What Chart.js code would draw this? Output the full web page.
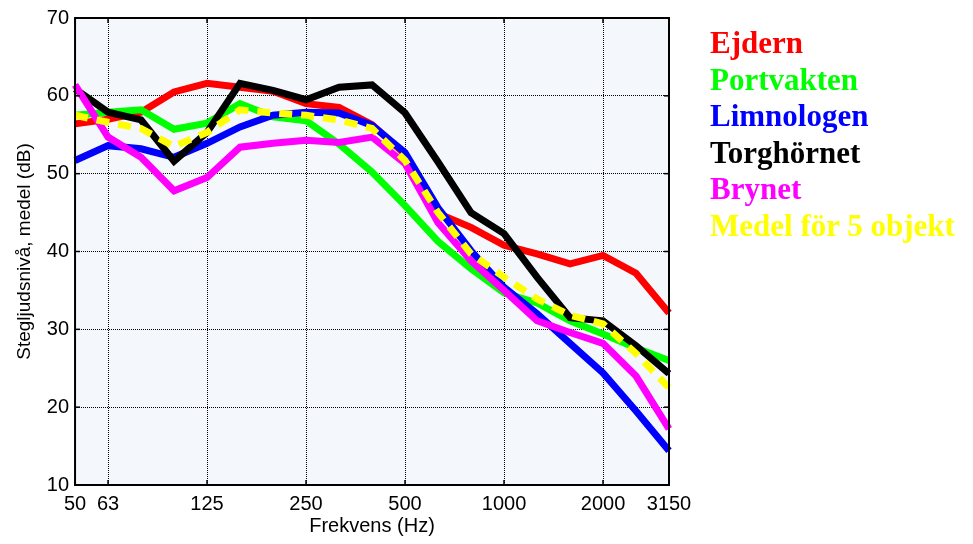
<!DOCTYPE html>
<html>
<head>
<meta charset="utf-8">
<script src="https://cdn.jsdelivr.net/npm/chart.js@4/dist/chart.umd.min.js"></script>
<style>
  html, body { margin: 0; padding: 0; background: #fff; }
  #wrap { position: relative; width: 973px; height: 544px; }
  #legend { position: absolute; left: 710px; top: 25px; font-family: "Liberation Serif", "Times New Roman", serif; font-weight: bold; font-size: 31px; line-height: 36.5px; white-space: nowrap; }
</style>
</head>
<body>
<div id="wrap">
  <canvas id="c" width="973" height="544"></canvas>
  <div id="legend"></div>
</div>
<script>
const frequencies = ['50','63','80','100','125','160','200','250','315','400','500','630','800','1000','1250','1600','2000','2500','3150'];
const shownTicks = ['50','63','125','250','500','1000','2000','3150'];
const gridTicks = ['63','125','250','500','1000','2000'];

const ejdern      = [56.4, 57.0, 57.9, 60.5, 61.6, 61.1, 60.6, 59.0, 58.5, 56.3, 52.5, 44.9, 43.1, 40.8, 39.7, 38.4, 39.5, 37.2, 32.1];
const portvakten  = [57.5, 57.9, 58.2, 55.7, 56.5, 59.0, 57.3, 56.8, 53.8, 50.2, 45.9, 41.3, 37.8, 34.7, 33.4, 31.1, 29.4, 27.6, 26.0];
const limnologen  = [51.7, 53.6, 53.2, 52.1, 53.9, 56.0, 57.5, 57.9, 57.8, 56.2, 52.7, 45.6, 40.1, 35.4, 32.0, 28.2, 24.4, 19.5, 14.4];
const torghornet  = [60.9, 57.9, 56.9, 51.6, 55.3, 61.6, 60.7, 59.5, 61.1, 61.4, 57.8, 51.5, 45.0, 42.3, 36.7, 31.5, 31.1, 27.9, 24.3];
const brynet      = [61.4, 54.7, 52.1, 47.8, 49.5, 53.4, 53.9, 54.3, 54.0, 54.7, 51.3, 43.7, 38.8, 35.0, 31.1, 29.6, 28.2, 24.0, 17.2];
const medel       = [57.5, 56.6, 55.8, 53.5, 55.3, 58.2, 57.8, 57.5, 56.9, 55.8, 51.7, 45.0, 39.7, 36.7, 33.9, 31.8, 30.7, 26.9, 22.5];

const seriesNames = ['Ejdern','Portvakten','Limnologen','Torghörnet','Brynet','Medel för 5 objekt'];
const seriesColors = ['#ff0000','#00ff00','#0000ff','#000000','#ff00ff','#ffff00'];
const seriesData = [ejdern, portvakten, limnologen, torghornet, brynet, medel];
const yTicks = [10,20,30,40,50,60,70];

const legend = document.getElementById('legend');
seriesNames.forEach((n,i)=>{
  const d = document.createElement('div');
  d.textContent = n; d.style.color = seriesColors[i];
  legend.appendChild(d);
});

const bgPlugin = {
  id: 'bg',
  beforeDraw(chart) {
    const {ctx, chartArea: a} = chart;
    ctx.save();
    ctx.fillStyle = '#f4f8fc';
    ctx.fillRect(a.left, a.top, a.right - a.left, a.bottom - a.top);
    ctx.restore();
  },
  afterDatasetsDraw(chart) {
    const {ctx, chartArea: a, scales} = chart;
    ctx.save();
    ctx.strokeStyle = '#000';
    ctx.lineWidth = 2;
    ctx.strokeRect(a.left, a.top, a.right - a.left, a.bottom - a.top);
    ctx.lineWidth = 1.5;
    frequencies.forEach((f, i) => {
      if (!shownTicks.includes(f)) return;
      const x = scales.x.getPixelForValue(i);
      ctx.beginPath(); ctx.moveTo(x, a.bottom); ctx.lineTo(x, a.bottom - 5); ctx.stroke();
      ctx.beginPath(); ctx.moveTo(x, a.top); ctx.lineTo(x, a.top + 5); ctx.stroke();
    });
    yTicks.forEach(v => {
      const y = scales.y.getPixelForValue(v);
      ctx.beginPath(); ctx.moveTo(a.left, y); ctx.lineTo(a.left + 5, y); ctx.stroke();
      ctx.beginPath(); ctx.moveTo(a.right, y); ctx.lineTo(a.right - 5, y); ctx.stroke();
    });
    ctx.restore();
  }
};

const datasets = seriesData.map((d,i)=>({
  label: seriesNames[i],
  data: d,
  borderColor: seriesColors[i],
  backgroundColor: seriesColors[i],
  borderWidth: 7,
  pointRadius: 0,
  tension: 0,
  fill: false,
  borderDash: i === 5 ? [13, 9] : [],
  borderJoinStyle: 'miter',
  order: 6 - i
}));

new Chart(document.getElementById('c'), {
  type: 'line',
  data: { labels: frequencies, datasets },
  plugins: [bgPlugin],
  options: {
    responsive: false,
    animation: false,
    layout: { padding: { left: 6, right: 304, top: 17, bottom: 8 } },
    plugins: { legend: { display: false }, tooltip: { enabled: false } },
    scales: {
      x: {
        type: 'category',
        offset: false,
        border: { display: false, dash: [1, 1] },
        grid: {
          drawTicks: false,
          color: (c) => (c.tick && gridTicks.includes(frequencies[c.index])) ? '#000' : 'rgba(0,0,0,0)',
          lineWidth: 1
        },
        ticks: {
          autoSkip: false,
          maxRotation: 0,
          padding: 9,
          color: '#000',
          font: { family: 'Liberation Sans, Arial', size: 20, lineHeight: 1 },
          callback: function(v, idx) { const l = frequencies[idx]; return shownTicks.includes(l) ? l : ''; }
        },
        title: { display: true, text: 'Frekvens (Hz)', color: '#000', font: { family: 'Liberation Sans, Arial', size: 20, lineHeight: 1 }, padding: { top: -7, bottom: 0 } }
      },
      y: {
        min: 10, max: 70,
        border: { display: false, dash: [1, 1] },
        grid: {
          drawTicks: false,
          color: (c) => (c.tick && c.tick.value > 10 && c.tick.value < 70) ? '#000' : 'rgba(0,0,0,0)',
          lineWidth: 1
        },
        afterBuildTicks: (s) => { s.ticks = yTicks.map(v => ({value: v})); },
        ticks: {
          padding: 6,
          color: '#000',
          font: { family: 'Liberation Sans, Arial', size: 20 }
        },
        title: { display: true, text: 'Stegljudsnivå, medel (dB)', color: '#000', font: { family: 'Liberation Sans, Arial', size: 19 }, padding: { top: 7, bottom: 5 } }
      }
    }
  }
});
</script>
</body>
</html>
